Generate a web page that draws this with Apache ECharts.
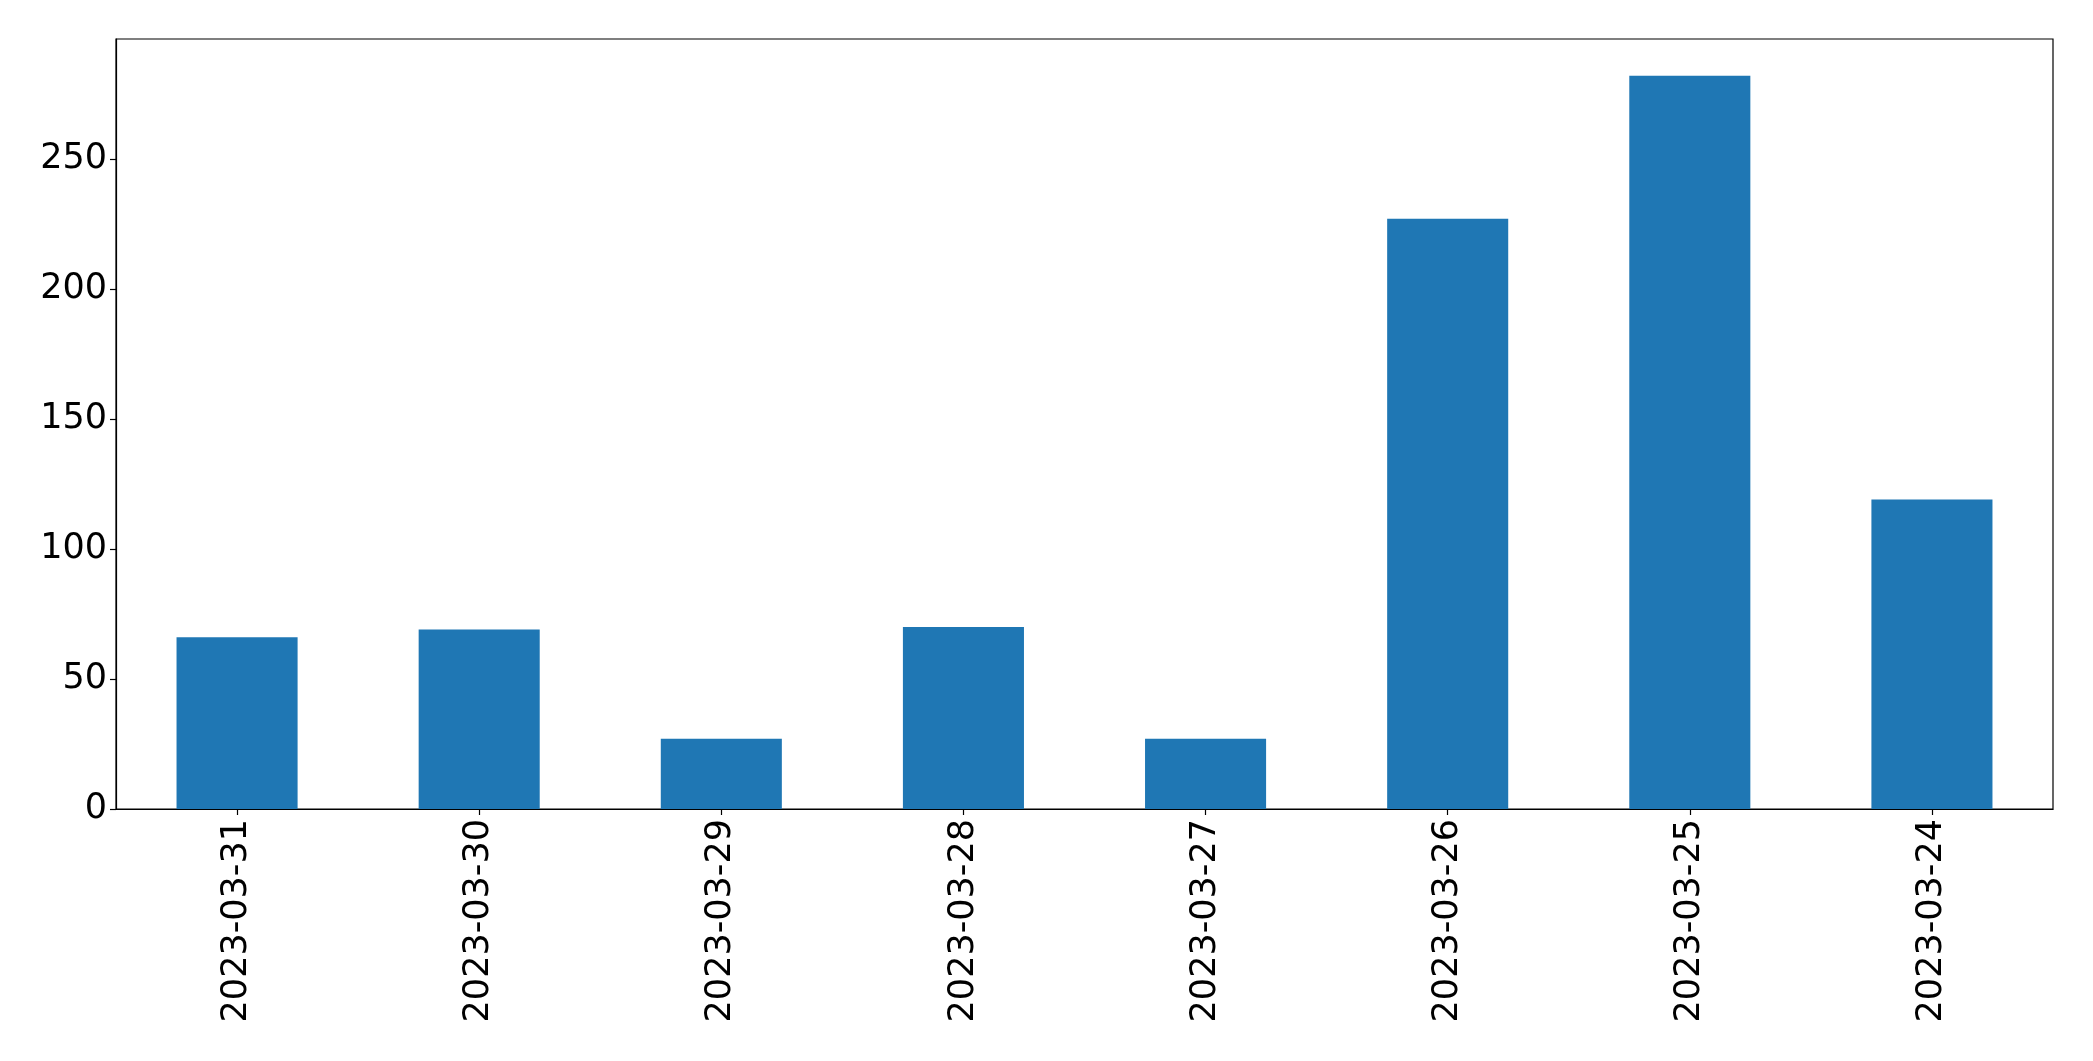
<!DOCTYPE html>
<html>
<head>
<meta charset="utf-8">
<script src="https://cdn.jsdelivr.net/npm/echarts@6/dist/echarts.min.js"></script>
<style>html,body{margin:0;padding:0;background:#fff;}#c{width:2093px;height:1061px;}</style>
</head>
<body>
<div id="c"></div>
<script>
const categories = ["2023-03-31","2023-03-30","2023-03-29","2023-03-28","2023-03-27","2023-03-26","2023-03-25","2023-03-24"];
const values = [66, 69, 27, 70, 27, 227, 282, 119];
const yTicks = [0, 50, 100, 150, 200, 250];

const chart = echarts.init(document.getElementById('c'), null, {renderer: 'canvas'});
const font = '"DejaVu Sans", sans-serif';
chart.setOption({
  animation: false,
  backgroundColor: '#fff',
  grid: {left: 116, right: 40, top: 39, bottom: 252, show: true, borderColor: '#000', borderWidth: 1.2, backgroundColor: 'transparent'},
  xAxis: {
    type: 'category',
    data: categories,
    axisLine: {show: true, lineStyle: {color: '#000', width: 1.2}},
    axisTick: {show: true, alignWithLabel: true, length: 6, lineStyle: {color: '#000', width: 1.2}},
    axisLabel: {rotate: 90, color: '#000', fontSize: 35, fontFamily: font, margin: 10, interval: 0}
  },
  yAxis: {
    type: 'value',
    min: 0,
    max: 296.1,
    interval: 50,
    splitLine: {show: false},
    axisLine: {show: true, lineStyle: {color: '#000', width: 1.2}},
    axisTick: {show: true, length: 6, customValues: yTicks, lineStyle: {color: '#000', width: 1.2}},
    axisLabel: {color: '#000', fontSize: 35, fontFamily: font, margin: 9, padding: [6, 0, 0, 0], customValues: yTicks}
  },
  series: [{
    type: 'bar',
    data: values,
    barWidth: '50%',
    itemStyle: {color: '#1f77b4'}
  }]
});
</script>
</body>
</html>
